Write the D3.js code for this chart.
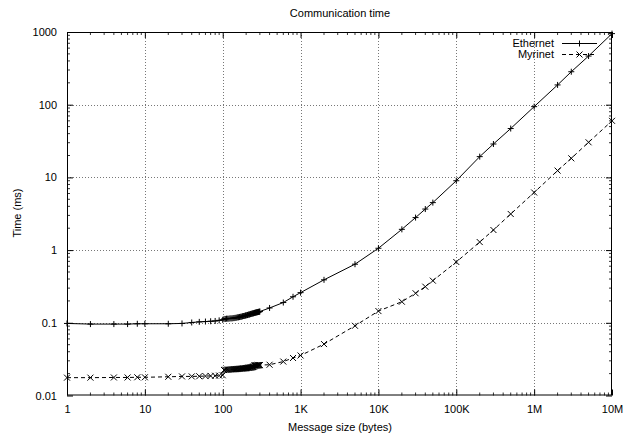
<!DOCTYPE html>
<html>
<head>
<meta charset="utf-8">
<script src="https://d3js.org/d3.v7.min.js"></script>
<style>
  body { margin: 0; background: #fff; }
  svg { display: block; font-family: "Liberation Sans", Arial, Helvetica, sans-serif; font-size: 11px; }
</style>
</head>
<body>
<svg width="631" height="437"></svg>
<script>

var sizes = [1, 2, 4, 6, 8, 10, 20, 30, 40, 50, 60, 70, 80, 90, 100,
  104, 108, 112, 116, 120, 124, 128, 132, 136, 140, 144, 148, 152, 156, 160, 164, 168, 172, 176, 180,
  184, 188, 192, 196, 200, 204, 208, 212, 216, 220, 224, 228, 232, 236, 240, 244, 248, 252, 256, 260,
  264, 268, 272, 276, 280, 284, 288, 292, 296, 300,
  400, 600, 800, 1000, 2000, 5000, 10000, 20000, 30000, 40000, 50000,
  100000, 200000, 300000, 500000, 1000000, 2000000, 3000000, 5000000, 10000000];

var ethernet = [0.098, 0.096, 0.096, 0.096, 0.097, 0.097, 0.097, 0.098, 0.101, 0.103, 0.104, 0.105, 0.106, 0.108, 0.110,
  0.113, 0.113, 0.114, 0.114, 0.114, 0.115, 0.115, 0.115, 0.116, 0.116, 0.117, 0.117, 0.118, 0.119, 0.119, 0.120, 0.121, 0.121, 0.122, 0.123,
  0.124, 0.124, 0.125, 0.126, 0.127, 0.127, 0.128, 0.129, 0.130, 0.130, 0.131, 0.132, 0.133, 0.133, 0.134, 0.135, 0.135, 0.136, 0.137, 0.137,
  0.138, 0.139, 0.139, 0.140, 0.140, 0.141, 0.141, 0.142, 0.142, 0.143,
  0.160, 0.19, 0.228, 0.26, 0.39, 0.64, 1.06, 1.93, 2.8, 3.67, 4.5,
  9.0, 19.3, 28.8, 47, 94, 187, 284, 467, 950];

var myrinet = [0.0176, 0.0176, 0.0177, 0.0177, 0.0178, 0.0178, 0.0181, 0.0183, 0.0183, 0.0184, 0.0185, 0.0186, 0.0187, 0.0188, 0.0190,
  0.0224, 0.0226, 0.0225, 0.0227, 0.0227, 0.0228, 0.0228, 0.0229, 0.0229, 0.0230, 0.0230, 0.0231, 0.0231, 0.0232, 0.0232, 0.0233, 0.0233, 0.0234, 0.0234, 0.0235,
  0.0236, 0.0236, 0.0237, 0.0237, 0.0238, 0.0239, 0.0239, 0.0240, 0.0241, 0.0241, 0.0242, 0.0243, 0.0244, 0.0245, 0.0246, 0.0247, 0.0249, 0.0252, 0.0258, 0.0257,
  0.0259, 0.0258, 0.0260, 0.0259, 0.0261, 0.0260, 0.0262, 0.0261, 0.0263, 0.0262,
  0.0265, 0.0293, 0.0328, 0.0355, 0.051, 0.091, 0.145, 0.195, 0.255, 0.314, 0.38,
  0.686, 1.29, 1.89, 3.14, 6.2, 12.4, 18.3, 30.4, 60];

var xTicks = [1, 10, 100, 1e3, 1e4, 1e5, 1e6, 1e7];
var xTickLabels = ["1", "10", "100", "1K", "10K", "100K", "1M", "10M"];
var yTicks = [0.01, 0.1, 1, 10, 100, 1000];
var yTickLabels = ["0.01", "0.1", "1", "10", "100", "1000"];

var seriesNames = ["Ethernet", "Myrinet"];

window.onload = function(e){

var svg = d3.select("svg");
var left = 67, right = 612, top = 32, bottom = 395.5;

var x = d3.scaleLog().domain([1, 1e7]).range([left, right]);
var y = d3.scaleLog().domain([0.01, 1000]).range([bottom, top]);

// minor ticks 2..9 of each decade
var yMinor = [];
for (var d = -2; d < 3; d++) {
  for (var k = 2; k < 10; k++) yMinor.push(k * Math.pow(10, d));
}
var xMinor = [];
for (var d2 = 0; d2 < 7; d2++) {
  for (var k2 = 2; k2 < 10; k2++) xMinor.push(k2 * Math.pow(10, d2));
}

var grid = svg.append("g").attr("stroke", "#777").attr("stroke-width", 1).attr("stroke-dasharray", "1,2");
grid.selectAll("line.gx").data(xTicks.slice(1, -1)).enter().append("line")
    .attr("x1", function(d) { return Math.round(x(d)) + 0.5; })
    .attr("x2", function(d) { return Math.round(x(d)) + 0.5; })
    .attr("y1", top).attr("y2", bottom);
grid.selectAll("line.gy").data(yTicks.slice(1, -1)).enter().append("line")
    .attr("y1", function(d) { return Math.round(y(d)) + 0.5; })
    .attr("y2", function(d) { return Math.round(y(d)) + 0.5; })
    .attr("x1", left).attr("x2", right);

// axes: ticks inside, mirrored
var axL = d3.axisLeft(y).tickValues(yTicks).tickSize(-6).tickFormat(function(d, i) { return yTickLabels[i]; }).tickPadding(10);
var axR = d3.axisRight(y).tickValues(yTicks).tickSize(-6).tickFormat("");
var axB = d3.axisBottom(x).tickValues(xTicks).tickSize(-6).tickFormat(function(d, i) { return xTickLabels[i]; }).tickPadding(10);
var axT = d3.axisTop(x).tickValues(xTicks).tickSize(-6).tickFormat("");

function styleAxis(g) {
  g.select(".domain").remove();
  g.selectAll("text").attr("font-size", 11).attr("font-family", "Liberation Sans, Arial, sans-serif").attr("fill", "#000");
  g.selectAll("line").attr("stroke", "#000");
}
svg.append("g").attr("transform", "translate(" + left + ",0)").call(axL).call(styleAxis);
svg.append("g").attr("transform", "translate(" + right + ",0)").call(axR).call(styleAxis);
svg.append("g").attr("transform", "translate(0," + bottom + ")").call(axB).call(styleAxis);
svg.append("g").attr("transform", "translate(0," + top + ")").call(axT).call(styleAxis);

var minor = svg.append("g").attr("stroke", "#000").attr("stroke-width", 0.8);
minor.selectAll("line.ml").data(yMinor).enter().append("line")
    .attr("x1", left).attr("x2", left + 3)
    .attr("y1", function(d) { return y(d); }).attr("y2", function(d) { return y(d); });
minor.selectAll("line.mr").data(yMinor).enter().append("line")
    .attr("x1", right).attr("x2", right - 3)
    .attr("y1", function(d) { return y(d); }).attr("y2", function(d) { return y(d); });
minor.selectAll("line.mb").data(xMinor).enter().append("line")
    .attr("y1", bottom).attr("y2", bottom - 3)
    .attr("x1", function(d) { return x(d); }).attr("x2", function(d) { return x(d); });
minor.selectAll("line.mt").data(xMinor).enter().append("line")
    .attr("y1", top).attr("y2", top + 3)
    .attr("x1", function(d) { return x(d); }).attr("x2", function(d) { return x(d); });

svg.append("rect").attr("x", left + 0.5).attr("y", top + 0.5)
    .attr("width", right - left - 1).attr("height", bottom - top - 1)
    .attr("fill", "none").attr("stroke", "#000");

var line = d3.line()
    .x(function(d) { return x(d[0]); })
    .y(function(d) { return y(d[1]); });

var plus = "M-3,0H3M0,-3V3";
var cross = "M-3,-3L3,3M-3,3L3,-3";

var ethData = sizes.map(function(s, i) { return [s, ethernet[i]]; });
var myrData = sizes.map(function(s, i) { return [s, myrinet[i]]; });

svg.append("path").datum(ethData).attr("d", line)
    .attr("fill", "none").attr("stroke", "#000").attr("stroke-width", 1);
svg.append("path").datum(myrData).attr("d", line)
    .attr("fill", "none").attr("stroke", "#000").attr("stroke-width", 1).attr("stroke-dasharray", "4,3");

svg.append("g").selectAll("path").data(ethData).enter().append("path")
    .attr("transform", function(d) { return "translate(" + x(d[0]) + "," + y(d[1]) + ")"; })
    .attr("d", plus).attr("stroke", "#000").attr("fill", "none");
svg.append("g").selectAll("path").data(myrData).enter().append("path")
    .attr("transform", function(d) { return "translate(" + x(d[0]) + "," + y(d[1]) + ")"; })
    .attr("d", cross).attr("stroke", "#000").attr("fill", "none");

// legend
var leg = svg.append("g");
leg.append("text").attr("x", 554).attr("y", 47).attr("text-anchor", "end").text(seriesNames[0]);
leg.append("line").attr("x1", 562).attr("x2", 597).attr("y1", 43.5).attr("y2", 43.5).attr("stroke", "#000");
leg.append("path").attr("transform", "translate(579.5,43.5)").attr("d", plus).attr("stroke", "#000");
leg.append("text").attr("x", 554).attr("y", 58).attr("text-anchor", "end").text(seriesNames[1]);
leg.append("line").attr("x1", 562).attr("x2", 597).attr("y1", 54.5).attr("y2", 54.5).attr("stroke", "#000").attr("stroke-dasharray", "4,3");
leg.append("path").attr("transform", "translate(579.5,54.5)").attr("d", cross).attr("stroke", "#000");

svg.append("text").attr("x", 340).attr("y", 17).attr("text-anchor", "middle").text("Communication time");
svg.append("text").attr("x", 340).attr("y", 431).attr("text-anchor", "middle").text("Message size (bytes)");
svg.append("text").attr("transform", "translate(21,213) rotate(-90)").attr("text-anchor", "middle").text("Time (ms)");

}
</script>
</body>
</html>
